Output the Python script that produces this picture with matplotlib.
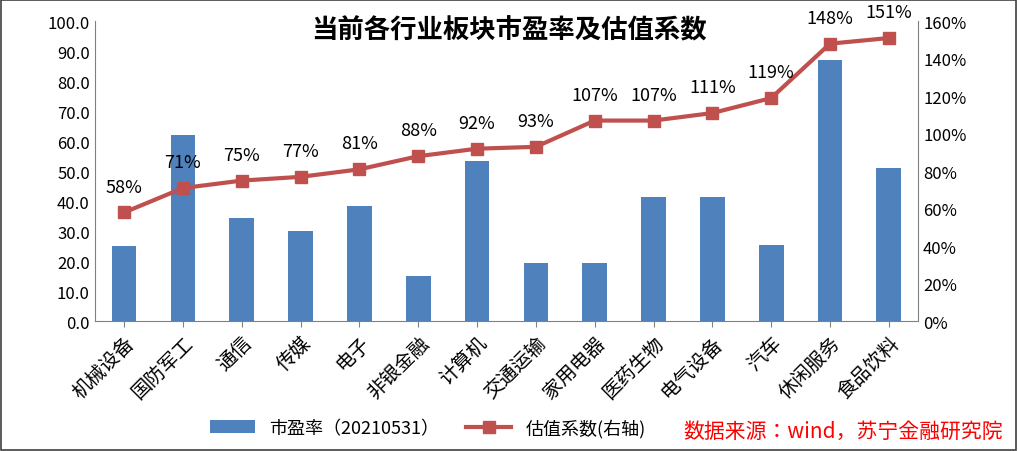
import matplotlib
matplotlib.use("Agg")
import matplotlib.pyplot as plt
from matplotlib import font_manager
from matplotlib.ticker import FuncFormatter

cjk = [f.name for f in font_manager.fontManager.ttflist if "CJK" in f.name]
pref = [n for n in ["Noto Sans CJK SC", "Noto Sans CJK JP", "Noto Sans CJK TC", "Noto Sans CJK KR"] if n in cjk] or cjk
plt.rcParams["font.family"] = "sans-serif"
plt.rcParams["font.sans-serif"] = pref[:1] + ["DejaVu Sans"]

categories = ["机械设备", "国防军工", "通信", "传媒", "电子", "非银金融", "计算机", "交通运输",
              "家用电器", "医药生物", "电气设备", "汽车", "休闲服务", "食品饮料"]
pe = [25.0, 62.0, 34.5, 30.0, 38.5, 15.0, 53.5, 19.5, 19.5, 41.5, 41.5, 25.5, 87.0, 51.0]
coef = [58, 71, 75, 77, 81, 88, 92, 93, 107, 107, 111, 119, 148, 151]

fig = plt.figure(figsize=(10.18, 4.52), dpi=100)
fig.patches.append(plt.Rectangle((0.001, 0.002), 0.997, 0.995, transform=fig.transFigure,
                                 fill=False, edgecolor="#404040", linewidth=1.2))
ax = fig.add_axes([0.093, 0.287, 0.809, 0.664])
x = list(range(len(categories)))
b = ax.bar(x, pe, width=0.42, color="#4F81BD", label="市盈率（20210531）")
ax.set_ylim(0, 100)
ax.set_yticks([i * 10 for i in range(11)])
ax.yaxis.set_major_formatter(FuncFormatter(lambda v, p: f"{v:.1f}"))
ax.set_xlim(-0.5, len(categories) - 0.5)
ax.set_xticks(x)
ax.set_xticklabels(categories, rotation=45, ha="right", rotation_mode="anchor", fontsize=14)
ax.tick_params(axis="y", labelsize=12, length=0)
ax.tick_params(axis="x", length=4, color="#808080")
for s in ["top", "right"]:
    ax.spines[s].set_visible(False)
for s in ["left", "bottom"]:
    ax.spines[s].set_color("#808080")

ax2 = ax.twinx()
l, = ax2.plot(x, coef, color="#C0504D", linewidth=3, marker="s", markersize=9, label="估值系数(右轴)")
ax2.set_ylim(0, 160)
ax2.set_yticks(range(0, 161, 20))
ax2.yaxis.set_major_formatter(FuncFormatter(lambda v, p: f"{int(v)}%"))
ax2.tick_params(axis="y", labelsize=12, length=0)
for s in ["top", "left", "bottom"]:
    ax2.spines[s].set_visible(False)
ax2.spines["right"].set_color("#808080")
for xi, v in zip(x, coef):
    ax2.text(xi, v + 9, f"{v}%", ha="center", va="bottom", fontsize=13)

fig.text(0.5, 0.915, "当前各行业板块市盈率及估值系数", ha="center", fontsize=19, fontweight="bold")
fig.legend(handles=[b, l], loc="lower left", bbox_to_anchor=(0.19, -0.005), ncol=2,
           frameon=False, fontsize=13, handlelength=2.5, columnspacing=1.5)
fig.text(0.985, 0.045, "数据来源：wind，苏宁金融研究院", ha="right", va="center",
         color="#FF0000", fontsize=15, style="italic")
fig.savefig("out.png", dpi=100)
